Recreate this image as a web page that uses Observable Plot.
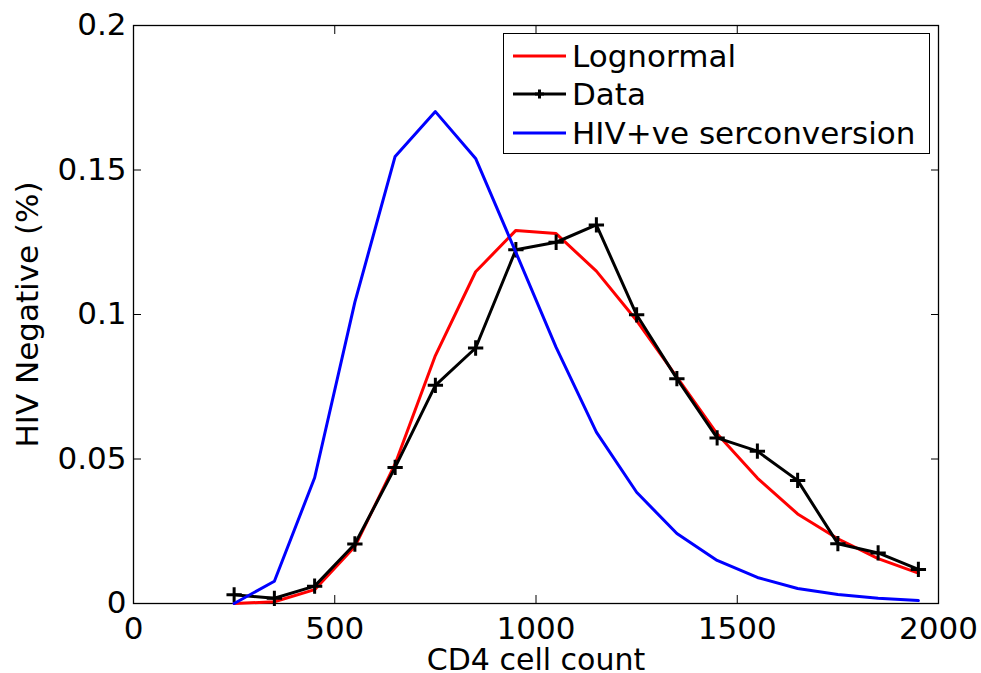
<!DOCTYPE html>
<html>
<head>
<meta charset="utf-8">
<script src="https://cdn.jsdelivr.net/npm/d3@7"></script>
<script src="https://cdn.jsdelivr.net/npm/@observablehq/plot@0.6"></script>
<style>
  html, body { margin: 0; padding: 0; background: #fff; }
  #wrap { position: relative; width: 981px; height: 673px; }
  #legend {
    position: absolute; left: 503px; top: 33px; width: 427px; height: 121px;
    border: 1.3px solid #000; background: #fff; box-sizing: border-box;
    font-family: "DejaVu Sans", sans-serif; font-size: 31px; color: #000;
  }
  .row { position: absolute; left: 0; height: 38px; display: flex; align-items: center; }
  .row svg { margin-left: 9px; margin-right: 6px; }
  #wrap svg [aria-label="x-axis label"] text { font-size: 30px; }
</style>
</head>
<body>
<div id="wrap"></div>
<script>
// CD4 cell count bin centres
const cd4 = [250, 350, 450, 550, 650, 750, 850, 950, 1050, 1150, 1250, 1350, 1450, 1550, 1650, 1750, 1850, 1950];
// Lognormal fit
const lognormal = [0, 0.0006, 0.0048, 0.0197, 0.0483, 0.0858, 0.1148, 0.1291, 0.1280, 0.1150, 0.0979, 0.0783, 0.0587, 0.0434, 0.0310, 0.0224, 0.0155, 0.0105];
// Observed data
const observed = [0.0030, 0.0018, 0.0060, 0.0206, 0.0471, 0.0755, 0.0884, 0.1224, 0.1250, 0.1310, 0.0999, 0.0778, 0.0573, 0.0527, 0.0426, 0.0207, 0.0175, 0.0118];
// HIV+ve seroconversion
const hivPos = [0, 0.0077, 0.0435, 0.1043, 0.1547, 0.1702, 0.1540, 0.1215, 0.0886, 0.0593, 0.0385, 0.0242, 0.0149, 0.0090, 0.0052, 0.0031, 0.0018, 0.0010];

const xTicks = [0, 500, 1000, 1500, 2000];
const yTicks = [0, 0.05, 0.1, 0.15, 0.2];
const seriesNames = ["Lognormal", "Data", "HIV+ve serconversion"];
const seriesColors = ["#ff0000", "#000000", "#0000ff"];

const rows = (ys) => cd4.map((x, i) => ({x, y: ys[i]}));

const chart = Plot.plot({
  width: 981,
  height: 673,
  marginLeft: 133,
  marginRight: 43,
  marginTop: 25,
  marginBottom: 70,
  style: {fontFamily: "DejaVu Sans, sans-serif", fontSize: "31px", color: "#000", background: "#fff", overflow: "visible"},
  x: {domain: [0, 2000]},
  y: {domain: [0, 0.2]},
  marks: [
    Plot.axisX({anchor: "bottom", ticks: xTicks, tickSize: -8, tickPadding: 21, tickFormat: d => String(d),
      label: "CD4 cell count", labelAnchor: "center", labelArrow: "none", labelOffset: 66}),
    Plot.axisX({anchor: "top", ticks: xTicks, tickSize: -8, tickFormat: () => "", label: null}),
    Plot.axisY({anchor: "left", ticks: yTicks, tickSize: -8, tickPadding: 15, tickFormat: d => String(d),
      label: "HIV Negative (%)", labelAnchor: "center", labelArrow: "none", labelOffset: 118}),
    Plot.axisY({anchor: "right", ticks: yTicks, tickSize: -8, tickFormat: () => "", label: null}),
    Plot.frame({stroke: "#000", strokeWidth: 1.3}),
    Plot.line(rows(lognormal), {x: "x", y: "y", stroke: seriesColors[0], strokeWidth: 3}),
    Plot.line(rows(observed), {x: "x", y: "y", stroke: seriesColors[1], strokeWidth: 3}),
    Plot.dot(rows(observed), {x: "x", y: "y", symbol: "plus", r: 5, stroke: seriesColors[1], strokeWidth: 3}),
    Plot.line(rows(hivPos), {x: "x", y: "y", stroke: seriesColors[2], strokeWidth: 3})
  ]
});

const wrap = document.getElementById("wrap");
wrap.appendChild(chart);

// Legend (inside plot area, MATLAB-style)
const legend = document.createElement("div");
legend.id = "legend";
const rowTops = [3, 41, 80];
seriesNames.forEach((name, i) => {
  const r = document.createElement("div");
  r.className = "row";
  r.style.top = rowTops[i] + "px";
  const marker = i === 1
    ? `<path d="M26.5,14.5V23.5M22,19H31" stroke="#000" stroke-width="3"/>`
    : "";
  r.innerHTML = `<svg width="53" height="38" viewBox="0 0 53 38"><line x1="0" x2="53" y1="19" y2="19" stroke="${seriesColors[i]}" stroke-width="3"/>${marker}</svg><span>${name}</span>`;
  legend.appendChild(r);
});
wrap.appendChild(legend);
</script>
</body>
</html>
